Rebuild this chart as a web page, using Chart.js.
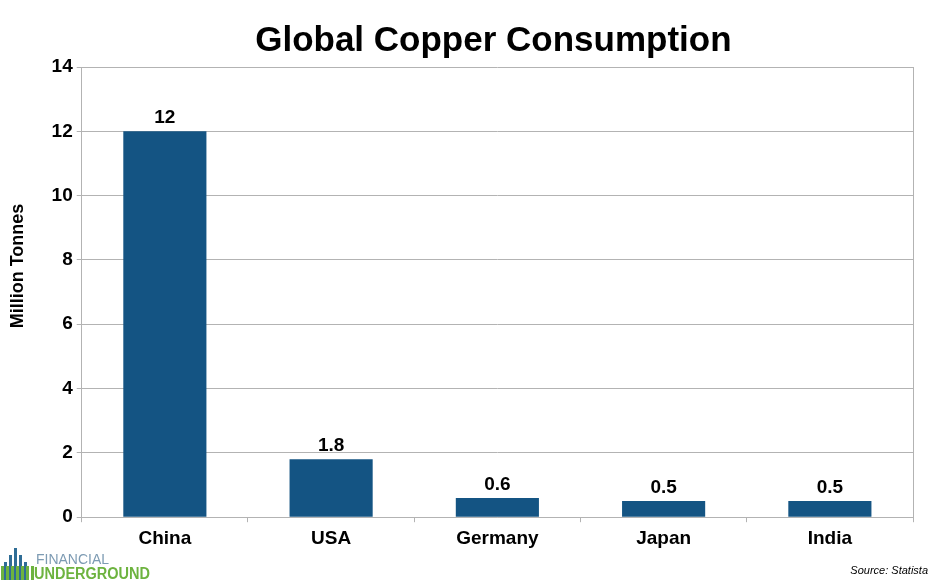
<!DOCTYPE html>
<html>
<head>
<meta charset="utf-8">
<script src="https://cdn.jsdelivr.net/npm/chart.js@4/dist/chart.umd.min.js"></script>
<style>
  html, body { margin: 0; padding: 0; background: #fff; }
  canvas { display: block; }
</style>
</head>
<body>
<canvas id="myChart" width="933" height="580"></canvas>
<script>
const countries = ['China', 'USA', 'Germany', 'Japan', 'India'];
const consumption = [12, 1.8, 0.6, 0.5, 0.5];
const valueLabels = ['12', '1.8', '0.6', '0.5', '0.5'];
const chartTitle = 'Global Copper Consumption';
const yTitle = 'Million Tonnes';

const FONT = "'Liberation Sans', Arial, sans-serif";
const gridColor = '#b3b3b3';

// value labels above each bar
const barLabels = {
    id: 'barLabels',
    afterDatasetsDraw(chart) {
        const ctx = chart.ctx;
        const meta = chart.getDatasetMeta(0);
        ctx.save();
        ctx.font = 'bold 19px ' + FONT;
        ctx.fillStyle = '#000';
        ctx.textAlign = 'center';
        ctx.textBaseline = 'bottom';
        meta.data.forEach((bar, i) => {
            ctx.fillText(valueLabels[i], bar.x, bar.y - 4);
        });
        ctx.restore();
    }
};

// titles, right edge line, footer logo and source note
const extras = {
    id: 'extras',
    beforeDatasetsDraw(chart) {
        const { ctx, chartArea } = chart;
        ctx.save();
        ctx.strokeStyle = gridColor;
        ctx.lineWidth = 1;
        ctx.beginPath();
        ctx.moveTo(Math.round(chartArea.right) + 0.5, chartArea.top);
        ctx.lineTo(Math.round(chartArea.right) + 0.5, chartArea.bottom);
        ctx.stroke();
        ctx.restore();
    },
    afterDraw(chart) {
        const { ctx, chartArea } = chart;
        ctx.save();
        ctx.font = 'bold 35px ' + FONT;
        ctx.fillStyle = '#000';
        ctx.textAlign = 'center';
        ctx.textBaseline = 'middle';
        ctx.fillText(chartTitle, (chartArea.left + chartArea.right) / 2 - 4, 41);

        // y axis title, sits a bit above the plot middle like the original
        ctx.save();
        ctx.translate(18, 266);
        ctx.rotate(-Math.PI / 2);
        ctx.font = 'bold 18px ' + FONT;
        ctx.fillText(yTitle, 0, 0);
        ctx.restore();

        // source
        ctx.font = 'italic 11px ' + FONT;
        ctx.textAlign = 'right';
        ctx.textBaseline = 'alphabetic';
        ctx.fillText('Source: Statista', 928, 574);

        // logo icon: city-like bars
        const bars = [[4, 562], [9, 555], [14, 548], [19, 555], [24, 562]];
        ctx.fillStyle = '#2f6d96';
        bars.forEach(b => ctx.fillRect(b[0], b[1], 3, 580 - b[1]));
        ctx.fillStyle = '#6db33f';
        for (let x = 1; x < 32; x += 5) ctx.fillRect(x, 566, 3, 14);

        // logo text
        ctx.textAlign = 'left';
        ctx.fillStyle = '#7d9bb3';
        ctx.font = '15px ' + FONT;
        let w = ctx.measureText('FINANCIAL').width;
        ctx.save();
        ctx.translate(36, 564);
        ctx.scale(73 / w, 1);
        ctx.fillText('FINANCIAL', 0, 0);
        ctx.restore();
        ctx.fillStyle = '#6db33f';
        ctx.font = 'bold 16px ' + FONT;
        w = ctx.measureText('UNDERGROUND').width;
        ctx.save();
        ctx.translate(34, 579);
        ctx.scale(116 / w, 1);
        ctx.fillText('UNDERGROUND', 0, 0);
        ctx.restore();
        ctx.restore();
    }
};

new Chart(document.getElementById('myChart'), {
    type: 'bar',
    data: {
        labels: countries,
        datasets: [{
            label: yTitle,
            data: consumption,
            backgroundColor: '#145483',
            barPercentage: 0.5,
            categoryPercentage: 1.0
        }]
    },
    options: {
        responsive: false,
        animation: false,
        layout: { padding: { left: 8, right: 20, top: 67, bottom: 25 } },
        plugins: {
            legend: { display: false },
            tooltip: { enabled: false },
            title: { display: false }
        },
        scales: {
            x: {
                grid: {
                    display: true,
                    offset: true,
                    drawOnChartArea: false,
                    drawTicks: true,
                    tickLength: 5,
                    color: gridColor
                },
                border: { color: gridColor },
                ticks: {
                    color: '#000',
                    font: { family: FONT, size: 19, weight: 'bold' },
                    padding: 5
                }
            },
            y: {
                min: 0,
                max: 14,
                // space is reserved here, the text itself is drawn by the plugin
                title: {
                    display: true,
                    text: yTitle,
                    color: 'rgba(0,0,0,0)',
                    font: { family: FONT, size: 18, weight: 'bold' },
                    padding: { top: 0, bottom: 18 }
                },
                grid: {
                    color: gridColor,
                    tickLength: 5
                },
                border: { color: gridColor },
                ticks: {
                    stepSize: 2,
                    color: '#000',
                    font: { family: FONT, size: 19, weight: 'bold' },
                    padding: 4
                }
            }
        }
    },
    plugins: [barLabels, extras]
});
</script>
</body>
</html>
